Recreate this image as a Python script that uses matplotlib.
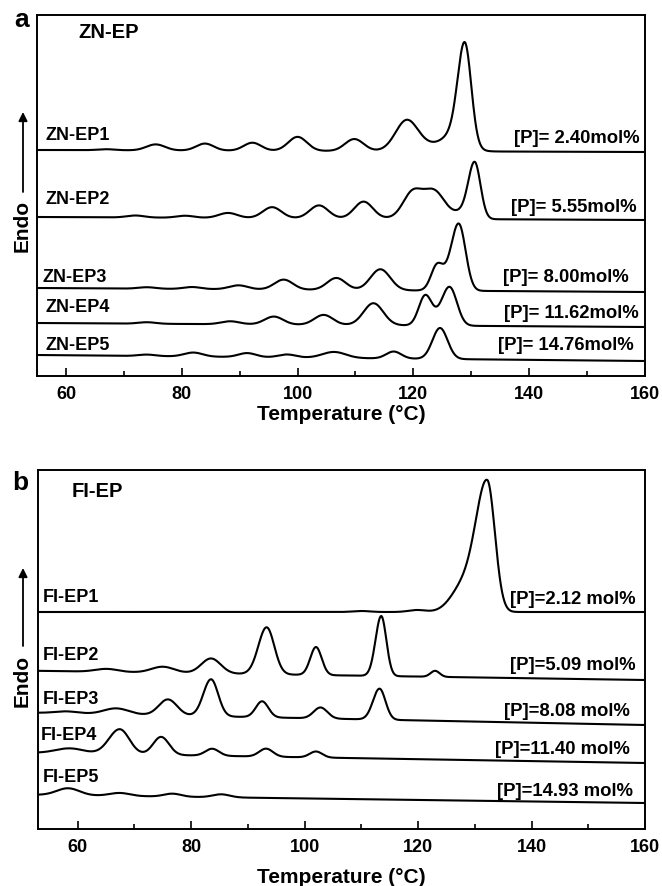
import matplotlib
matplotlib.use("Agg")
import matplotlib.pyplot as plt
import numpy as np

plt.rcParams['font.family'] = ['Liberation Sans', 'DejaVu Sans']
plt.rcParams['font.weight'] = 'bold'

# ---- data ----
# each curve: baseline at 55 C and at 160 C, then melting peaks
# (centre C, height, width C) or (centre, height, left width, right width)
zn_names = ['ZN-EP1', 'ZN-EP2', 'ZN-EP3', 'ZN-EP4', 'ZN-EP5']
zn_p = ['[P]= 2.40mol%', '[P]= 5.55mol%', '[P]= 8.00mol%', '[P]= 11.62mol%', '[P]= 14.76mol%']
zn_base = [(226, 224), (159, 156), (88, 84), (53, 49), (21, 15)]
zn_peaks = [
    [(67, 1, 1.5), (75.5, 6, 1.6), (84, 7, 1.5), (92.2, 8, 1.5), (100, 14, 1.6), (109.8, 12, 1.6),
     (118.8, 28, 1.9), (122.5, 6, 3.5), (127.4, 16, 2.0), (128.9, 96, 1.2, 1.1)],
    [(72, 2, 1.5), (80.6, 2, 1.5), (88, 5, 1.6), (95.6, 11, 1.6), (103.7, 13, 1.6), (111.4, 17, 1.6),
     (119.8, 22, 1.6), (123.6, 23, 1.8), (122, 6, 3.0), (128.5, 6, 1.5), (130.6, 55, 1.1, 1.0)],
    [(74, 1.5, 1.5), (81.8, 2, 1.5), (89.8, 4, 1.6), (97.6, 10, 1.6), (106.7, 12, 1.6), (114.3, 21, 1.7),
     (124, 20, 1.0), (125.8, 12, 1.6), (127.9, 62, 1.25, 1.15)],
    [(74, 1.5, 1.5), (88.4, 3, 1.6), (95.9, 8, 1.6), (104.5, 10, 1.6), (113.1, 22, 1.7),
     (122, 28, 1.1), (124, 6, 1.5), (126.3, 37, 1.3, 1.25)],
    [(74, 1.5, 1.5), (82, 4, 1.6), (91.3, 4, 1.5), (98.2, 3, 1.5), (106.3, 6, 2.0), (116.6, 7, 1.3),
     (124.6, 31, 1.3)],
]

fi_names = ['FI-EP1', 'FI-EP2', 'FI-EP3', 'FI-EP4', 'FI-EP5']
fi_p = ['[P]=2.12 mol%', '[P]=5.09 mol%', '[P]=8.08 mol%', '[P]=11.40 mol%', '[P]=14.93 mol%']
fi_base = [(217, 217), (158, 149), (116, 104), (76, 66), (34, 26)]
fi_peaks = [
    [(110, 1, 1.5), (119.8, 2, 1.5), (128, 25, 2.2), (132.2, 128, 2.0, 1.35)],
    [(65.1, 3, 2.0), (75, 6, 2.0), (83.5, 15, 1.7), (93.3, 47, 1.45, 1.35), (102, 28, 1.0),
     (113.5, 60, 1.0, 0.9), (123, 6, 0.8)],
    [(58, 2, 2.0), (66.8, 6, 2.2), (75.9, 16, 1.6), (83.5, 37, 1.35, 1.25), (92.5, 16, 1.1),
     (102.8, 11, 1.2), (113.2, 31, 1.15, 1.05)],
    [(58.6, 5, 2.5), (67.4, 25, 1.9, 1.7), (74.7, 18, 1.4), (83.7, 7, 1.2), (93.2, 8, 1.2), (102, 6, 1.1)],
    [(58.3, 7, 2.0), (67.4, 3, 1.8), (76.7, 3, 1.5), (85.3, 3, 1.5)],
]


def dsc_curve(t, base, peaks):
    y = base[0] + (base[1] - base[0]) * (t - 55) / (160 - 55)
    for p in peaks:
        c, h, wl = p[0], p[1], p[2]
        wr = p[3] if len(p) > 3 else wl
        w = np.where(t < c, wl, wr)
        y = y + h * np.exp(-(t - c) ** 2 / (2 * w ** 2))
    return y


def draw_panel(ax, xmin, names, plabels, bases, peaks, title, name_pos, p_pos, title_pos, ymax, labelpad):
    t = np.linspace(xmin, 160, 1500)
    for i in range(len(names)):
        ax.plot(t, dsc_curve(t, bases[i], peaks[i]), color='black', lw=1.5)
        ax.text(name_pos[i][0], name_pos[i][1], names[i], fontsize=13, fontweight='bold',
                ha='left', va='center')
        ax.text(p_pos[i][0], p_pos[i][1], plabels[i], fontsize=13.3, fontweight='bold',
                ha='right', va='center')
    ax.text(title_pos[0], title_pos[1], title, fontsize=14.5, fontweight='bold', ha='left', va='center')

    ax.set_xlim(xmin, 160)
    ax.set_ylim(0, ymax)
    ax.set_yticks([])
    ax.set_xticks([60, 80, 100, 120, 140, 160])
    ax.set_xticks([70, 90, 110, 130, 150], minor=True)
    ax.tick_params(axis='x', which='major', direction='in', length=6, width=1.2, labelsize=13, pad=7)
    ax.tick_params(axis='x', which='minor', direction='in', length=3.5, width=1.2)
    for lab in ax.get_xticklabels():
        lab.set_fontweight('bold')
    for s in ax.spines.values():
        s.set_linewidth(1.4)
    ax.set_xlabel('Temperature (°C)', fontsize=15, fontweight='bold', labelpad=labelpad)


def main():
    fig = plt.figure(figsize=(6.62, 8.86), dpi=100)
    ax_a = fig.add_axes([37 / 662, 1 - 376 / 886, 608 / 662, 361 / 886])
    ax_b = fig.add_axes([38 / 662, 1 - 829 / 886, 607 / 662, 359 / 886])

    draw_panel(ax_a, 55, zn_names, zn_p, zn_base, zn_peaks, 'ZN-EP',
               [(56.4, 241), (56.4, 176), (55.9, 99), (56.4, 69), (56.4, 31)],
               [(159.0, 238), (158.6, 169), (157.2, 98), (159.0, 63), (158.1, 31)],
               (62.1, 344), 361, 2)
    draw_panel(ax_b, 53, fi_names, fi_p, fi_base, fi_peaks, 'FI-EP',
               [(53.9, 232), (53.9, 174), (53.9, 129), (53.4, 94), (53.9, 52)],
               [(158.3, 229), (158.3, 164), (157.4, 118), (157.4, 79), (157.9, 37)],
               (59.0, 337), 359, 9)

    # panel letters, Endo labels and arrows (figure pixels, origin bottom-left)
    fig.text(22 / 662, 1 - 20 / 886, 'a', fontsize=19, fontweight='bold', ha='center', va='center')
    fig.text(20 / 662, 1 - 483 / 886, 'b', fontsize=19, fontweight='bold', ha='center', va='center')
    for y_txt, y0, y1 in [(226, 192, 112), (681, 646, 568)]:
        fig.text(22 / 662, 1 - y_txt / 886, 'Endo', fontsize=15, fontweight='bold', rotation=90,
                 ha='center', va='center')
        ax_a.annotate('', xy=(23, 886 - y1), xytext=(23, 886 - y0), xycoords='figure pixels',
                      textcoords='figure pixels',
                      arrowprops=dict(arrowstyle='-|>', color='black', lw=1.3, mutation_scale=13,
                                      shrinkA=0, shrinkB=0))

    fig.savefig('out.png', dpi=100)


if __name__ == '__main__':
    main()
